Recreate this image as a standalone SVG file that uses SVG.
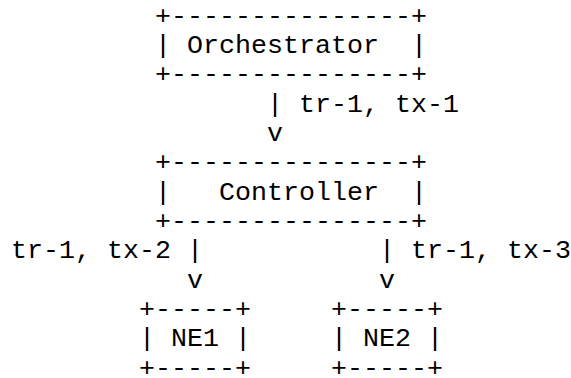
<svg xmlns="http://www.w3.org/2000/svg" width="571" height="378" viewBox="0 0 571 378" xml:space="preserve">
  <style>
    /* monospace character grid: 16px columns, 29.35px rows */
    text { font-family: "Liberation Mono", "Courier New", monospace; font-size: 26.67px; fill: #000; white-space: pre; }
  </style>
  <rect width="571" height="378" fill="#ffffff"/>

  <g id="orchestrator">
    <text x="155" y="23.6">+---------------+</text>
    <text x="155" y="52.95">| Orchestrator  |</text>
    <text x="155" y="82.3">+---------------+</text>
  </g>

  <g id="controller">
    <text x="155" y="170.35">+---------------+</text>
    <text x="155" y="199.7">|   Controller  |</text>
    <text x="155" y="229.05">+---------------+</text>
  </g>

  <g id="ne1">
    <text x="139" y="317.1">+-----+</text>
    <text x="139" y="346.45">| NE1 |</text>
    <text x="139" y="375.8">+-----+</text>
  </g>

  <g id="ne2">
    <text x="331" y="317.1">+-----+</text>
    <text x="331" y="346.45">| NE2 |</text>
    <text x="331" y="375.8">+-----+</text>
  </g>

  <g id="connectors">
    <!-- Orchestrator to Controller -->
    <text x="267" y="111.65">| tr-1, tx-1</text>
    <text x="267" y="141">v</text>
    <!-- Controller to NE1 -->
    <text x="11" y="258.4">tr-1, tx-2 |</text>
    <text x="187" y="287.75">v</text>
    <!-- Controller to NE2 -->
    <text x="379" y="258.4">| tr-1, tx-3</text>
    <text x="379" y="287.75">v</text>
  </g>
</svg>
